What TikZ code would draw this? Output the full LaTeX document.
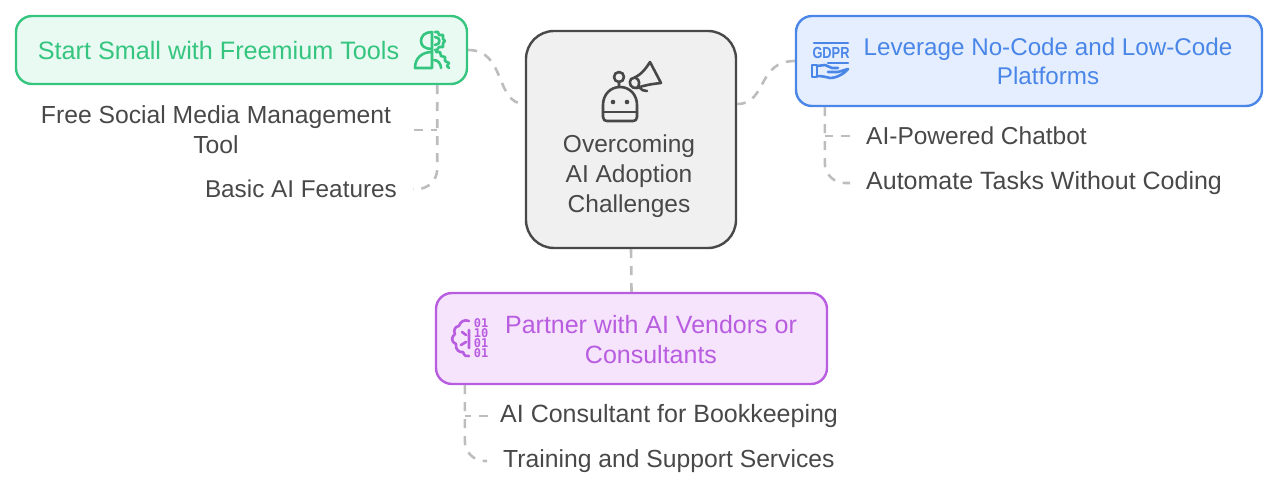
\documentclass[tikz,border=0pt]{standalone}
\usepackage{fontspec}
\setmainfont{Liberation Sans}
\setmonofont{DejaVu Sans Mono}
\definecolor{greenline}{HTML}{35C57F}
\definecolor{greenfill}{HTML}{E8FAF2}
\definecolor{blueline}{HTML}{4A86E8}
\definecolor{bluefill}{HTML}{E4EEFE}
\definecolor{purpleline}{HTML}{B85CE0}
\definecolor{purplefill}{HTML}{F6E4FC}
\definecolor{darkline}{HTML}{484848}
\definecolor{darkfill}{HTML}{F0F0F0}
\definecolor{linkgrey}{HTML}{BDBDBD}
\tikzset{
    card/.style={draw=#1line, fill=#1fill, line width=2.4pt, rounded corners=16pt, inner sep=0pt},
    cardtext/.style={text=#1line, font=\fontsize{24.5}{30}\selectfont, align=center, inner sep=0pt},
    leaf/.style={text=darkline, font=\fontsize{#1}{30}\selectfont, align=center, inner sep=16pt},
    link/.style={draw=linkgrey, line width=2.6pt, dash pattern=on 9pt off 8pt},
    icon/.style={line width=2.6pt, line cap=round, line join=round},
    digits/.style={text=purpleline, font=\fontsize{12}{12}\selectfont\ttfamily\bfseries, inner sep=0pt}
}
\begin{document}
\begin{tikzpicture}[x=1pt, y=-1pt]
    \useasboundingbox (0,0) rectangle (1278,489);

    \node[card=green, minimum width=451pt, minimum height=68pt] (freemium) at (241.5,50) {};
    \node[card=blue, minimum width=466pt, minimum height=90pt] (nocode) at (1029,61) {};
    \node[card=dark, rounded corners=28pt, minimum width=210pt, minimum height=217pt] (center) at (631,139.5) {};
    \node[card=purple, minimum width=391pt, minimum height=91pt] (partner) at (631.5,338.5) {};

    \node[cardtext=green, font=\fontsize{25.2}{30}\selectfont] (freemiumtext) at (218.5,50) {Start Small with Freemium Tools};
    \node[cardtext=blue, font=\fontsize{24.2}{29}\selectfont] (nocodetext) at (1048,61.5) {Leverage No-Code and Low-Code\\Platforms};
    \node[cardtext=dark] (centertext) at (629,176) {Overcoming\\AI Adoption\\Challenges};
    \node[cardtext=purple, font=\fontsize{25}{30}\selectfont] (partnertext) at (651,339.5) {Partner with AI Vendors or\\Consultants};

    \node[leaf=24.7, inner xsep=23pt] (socialtool) at (216,130) {Free Social Media Management\\Tool};
    \node[leaf=24.3, anchor=east] (aifeatures) at (413,189) {Basic AI Features};
    \node[leaf=24.5, anchor=west] (chatbot) at (850,136) {AI-Powered Chatbot};
    \node[leaf=25, anchor=west] (automate) at (850,183) {Automate Tasks Without Coding};
    \node[leaf=25, anchor=west, inner xsep=12pt] (consultant) at (488,416) {AI Consultant for Bookkeeping};
    \node[leaf=24.7, anchor=west] (support) at (487,461) {Training and Support Services};

    \coordinate (freemiumdrop) at ([xshift=-31pt]freemium.south east);
    \coordinate (nocodedrop) at ([xshift=30pt]nocode.south west);
    \coordinate (partnerdrop) at ([xshift=30pt]partner.south west);

    \draw[link] (freemium.east) .. controls +(38,0) and +(-30,0) .. ([yshift=35.5pt]center.west);
    \draw[link] (nocode.west) .. controls +(-38,0) and +(30,0) .. ([yshift=35.5pt]center.east);
    \draw[link] (center.south) -- (partner.north);
    \draw[link] (socialtool.east) -- (socialtool.east -| freemiumdrop);
    \draw[link, rounded corners=20pt] (freemiumdrop) |- (aifeatures.east);
    \draw[link] (chatbot.west) -- (chatbot.west -| nocodedrop);
    \draw[link, rounded corners=20pt] (nocodedrop) |- (automate.west);
    \draw[link] (consultant.west) -- (consultant.west -| partnerdrop);
    \draw[link, rounded corners=20pt] (partnerdrop) |- (support.west);

    % robot with megaphone
    \draw[icon, darkline] (603,105) .. controls (603,95) and (610,87) .. (620,87) .. controls (630,87) and (637,95) .. (637,105)
        -- (637,117) .. controls (637,120) and (635,121) .. (633,121) -- (607,121) .. controls (605,121) and (603,120) .. (603,117) -- cycle;
    \draw[icon, darkline] (603,112) -- (637,112);
    \fill[darkline] (613,102) circle (2.3pt) (627,102) circle (2.3pt);
    \draw[icon, darkline] (619,77) circle (5pt) (619,82) -- (619,87);
    \draw[icon, darkline] (650,62) -- (661,83) .. controls (652,84) and (645,85) .. (637,88)
        .. controls (631,89) and (628,83) .. (631,79) .. controls (640,76) and (645,70) .. (650,62);
    \draw[icon, darkline] (636,78) .. controls (640,80) and (640,85) .. (637,88);
    \draw[icon, darkline] (640,88) .. controls (641,90) and (644,91) .. (647,91);

    % person with gears
    \draw[icon, greenline] (432,32) .. controls (425,32) and (421,36) .. (421,41) .. controls (421,46) and (425,49) .. (432,49);
    \draw[icon, greenline] (432,32) -- (432,68) -- (415,68) .. controls (415,58) and (422,52) .. (432,52);
    \draw[icon, greenline] (435,32) -- (438,32) -- (439,35) -- (443,35) -- (443,39) -- (445,41) -- (443,43)
        -- (443,47) -- (439,47) -- (437,50) -- (435,50);
    \draw[icon, greenline] (435,37) .. controls (441,37) and (441,45) .. (435,45);
    \draw[icon, greenline] (436,52) -- (440,52) -- (441,56) -- (445,57) -- (445,61) -- (449,63) -- (447,66) -- (449,68);
    \draw[icon, greenline] (434,60) .. controls (438,60) and (441,64) .. (441,68);

    % hand holding the letters
    \node[text=blueline, font=\fontsize{16}{16}\selectfont\bfseries, inner sep=0pt] (gdpr) at (831,53) {\scalebox{0.8}[1]{GDPR}};
    \draw[icon, blueline] (814,43) -- (848,43) (828,63) -- (848,63);
    \draw[icon, blueline] (812,65) rectangle (817,77);
    \draw[icon, blueline] (817,66) -- (825,65) -- (832,68) -- (838,68) (828,72) -- (838,72) -- (848,69)
        .. controls (846,72) and (838,78) .. (830,78) .. controls (826,77) and (822,76) .. (817,76);

    % brain with digits
    \draw[icon, purpleline] (469,321) .. controls (464,319) and (460,322) .. (459,326) .. controls (455,326) and (453,331) .. (455,334)
        .. controls (451,337) and (451,342) .. (456,344) .. controls (455,350) and (460,353) .. (463,352)
        .. controls (464,356) and (467,357) .. (469,356);
    \draw[icon, purpleline] (469,330) -- (469,348) (462,332) -- (466,335) (461,345) -- (466,342);
    \node[digits] (digitsa) at (481,323.5) {01};
    \node[digits] (digitsb) at (481,333.5) {10};
    \node[digits] (digitsc) at (481,343.5) {01};
    \node[digits] (digitsd) at (481,353.5) {01};
\end{tikzpicture}
\end{document}
